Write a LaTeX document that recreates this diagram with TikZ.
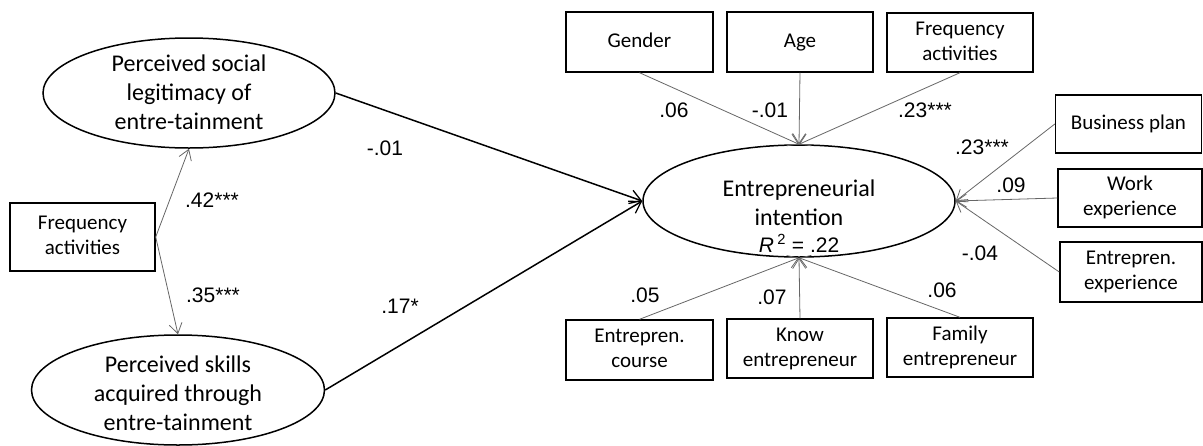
\documentclass[tikz,border=0pt]{standalone}
\usepackage{fontspec}
\setmainfont{Carlito}
\newfontfamily\labelfont{Liberation Sans}
\usetikzlibrary{arrows.meta,shapes.geometric}
% centred stack of lines inside a variable box
\newcommand\obtext[1]{\begin{tabular}{@{}c@{}}#1\end{tabular}}

\begin{document}
\begin{tikzpicture}[x=1pt,y=-1pt,
  latent/.style={draw=black,line width=1.5pt,ellipse,inner sep=0pt},
  latenttext/.style={align=center,font=\fontsize{24}{29}\selectfont,inner sep=0pt},
  observed/.style={draw=black,line width=1.4pt,rectangle,inner sep=0pt,
    font=\fontsize{21}{25}\selectfont},
  ctrl/.style={draw=black!60,line width=0.8pt,
    -{Straight Barb[length=10pt,width=13pt,line width=0.8pt]}},
  mainpath/.style={draw=black,line width=1.5pt,
    -{Straight Barb[length=11pt,width=14pt,line width=1.3pt]}},
  coef/.style={font=\labelfont\fontsize{21}{24}\selectfont,inner sep=0pt}]
\useasboundingbox (0,0) rectangle (1203,445);

% latent constructs
\node[latent,minimum width=292pt,minimum height=110pt] (pl) at (189,93) {};
\node[latenttext] at (189,92) {Perceived social\\legitimacy of\\entre-tainment};
\node[latent,minimum width=293pt,minimum height=110pt] (ps) at (178,390) {};
\node[latenttext] at (178,393) {Perceived skills\\acquired through\\entre-tainment};
\node[latent,minimum width=312pt,minimum height=112pt] (ei) at (799,201) {};
\node[latenttext] at (799,216) {Entrepreneurial\\intention\\[-2pt]
  {\labelfont\fontsize{21}{24}\selectfont\itshape R\,\upshape\textsuperscript{2} = .22}};

% observed variables
\node[observed,minimum width=145pt,minimum height=68pt] (fa) at (82.5,237) {\obtext{Frequency\\activities}};
\node[observed,minimum width=147pt,minimum height=60pt] (gd) at (639.5,42) {\obtext{Gender}};
\node[observed,minimum width=146pt,minimum height=60pt] (ag) at (800,42) {\obtext{Age}};
\node[observed,minimum width=146pt,minimum height=59pt] (fq) at (960,42.5) {\obtext{Frequency\\activities}};
\node[observed,minimum width=146pt,minimum height=58pt] (bp) at (1128.5,124) {\obtext{Business plan}};
\node[observed,minimum width=144pt,minimum height=58pt] (we) at (1130,198) {\obtext{Work\\experience}};
\node[observed,minimum width=142pt,minimum height=60pt] (ee) at (1131,272) {\obtext{Entrepren.\\experience}};
\node[observed,minimum width=147pt,minimum height=60pt] (ec) at (639.5,350) {\obtext{Entrepren.\\course}};
\node[observed,minimum width=146pt,minimum height=59pt] (ke) at (800,348.5) {\obtext{Know\\entrepreneur}};
\node[observed,minimum width=146pt,minimum height=59pt] (fe) at (960,347.5) {\obtext{Family\\entrepreneur}};

% frequency of activities to the two perceptions
\draw[ctrl] (fa.east) -- (pl.south);
\draw[ctrl] (fa.east) -- (ps.north);

% structural paths
\draw[mainpath] (pl.east) -- (ei.west);
\draw[mainpath] (ps.east) -- (ei.west);

% control variables
\draw[ctrl] (gd.south) -- (ei.north);
\draw[ctrl] (ag.south) -- (ei.north);
\draw[ctrl] (fq.south) -- (ei.north);
\draw[ctrl] (bp.west) -- (ei.east);
\draw[ctrl] (we.west) -- (ei.east);
\draw[ctrl] (ee.west) -- (ei.east);
\draw[ctrl] (ec.north) -- (ei.south);
\draw[ctrl] (ke.north) -- (ei.south);
\draw[ctrl] (fe.north) -- (ei.south);

% coefficients
\node[coef] at (212,200) {.42***};
\node[coef] at (213,295) {.35***};
\node[coef] at (385,148) {-.01};
\node[coef] at (400,306) {.17*};
\node[coef] at (674,110) {.06};
\node[coef] at (770,110) {-.01};
\node[coef] at (925,110) {.23***};
\node[coef] at (982,147) {.23***};
\node[coef] at (1011,185) {.09};
\node[coef] at (980,253) {-.04};
\node[coef] at (645,295) {.05};
\node[coef] at (772,297) {.07};
\node[coef] at (942,290) {.06};
\end{tikzpicture}
\end{document}
